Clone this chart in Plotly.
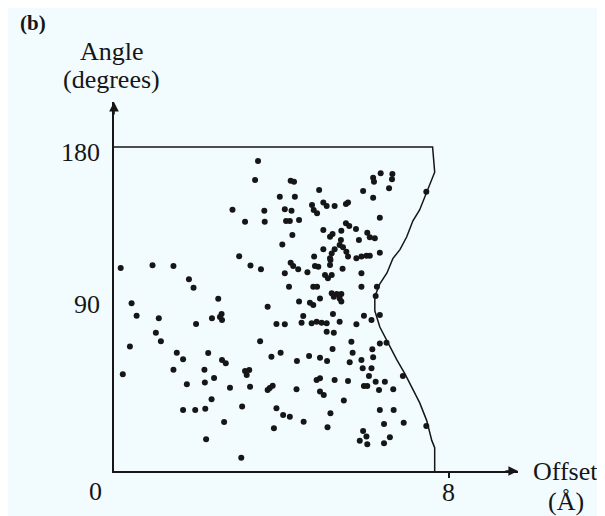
import plotly.graph_objects as go

# Scatter points: offset (Å) and angle (degrees)
offset = [3.44, 3.37, 3.96, 2.83, 3.59, 3.13, 3.60, 4.02, 2.99, 0.16, 0.92, 1.42, 3.26, 3.51, 1.79,
          1.90, 2.49, 0.42, 3.67, 0.54, 1.07, 1.96, 2.34, 2.57, 2.58, 2.53, 3.88, 1.00, 1.12, 3.49,
          0.38, 1.50, 1.65, 2.25, 2.58, 2.67, 3.76, 3.98, 1.42, 2.16, 3.13, 3.23, 3.17, 0.21, 2.39,
          1.74, 2.17, 2.77, 3.25, 3.67, 3.79, 3.72, 2.33, 1.65, 1.94, 2.18, 3.06, 3.88, 2.63, 3.82,
          2.20, 3.04,
          4.22, 4.30, 4.90, 6.19, 6.21, 6.37, 6.65, 6.64, 6.57, 5.95, 6.19, 4.32, 4.08, 4.24, 4.73,
          4.77, 4.85, 5.00, 5.08, 5.27, 5.54, 5.59, 4.11, 4.20, 4.42, 6.35, 4.26, 5.00, 5.16, 5.22,
          5.43, 5.54, 5.62, 5.78, 6.05, 6.11, 6.23, 5.85, 5.42, 5.39, 5.47, 5.00, 5.27, 5.20, 5.55,
          5.59, 6.35, 4.78, 5.16, 5.79, 5.91, 6.03, 6.11, 4.22, 4.28, 4.40, 4.80, 4.88, 5.16, 5.17,
          5.46, 4.08, 4.62, 5.91, 5.04, 5.11, 5.20, 4.18, 4.76, 4.85, 5.91, 6.28, 5.20, 5.32, 5.43,
          5.39, 5.43, 5.25, 4.92, 4.68, 4.76, 4.42, 6.25, 7.46,
          5.23, 5.97, 6.15, 6.35, 4.52, 4.48, 4.08, 4.72, 4.84, 4.96, 5.08, 5.39, 5.79, 5.08, 5.25,
          5.67, 6.35, 6.51, 6.17, 5.22, 5.70, 4.66, 4.92, 5.09, 4.37, 6.19, 5.63, 5.91, 5.94, 6.15,
          6.09, 6.90, 4.84, 4.92, 5.27, 5.59, 6.25, 6.47, 5.97, 6.05, 6.33, 6.67, 4.36, 4.92, 5.01,
          5.49, 4.04, 4.20, 5.17, 6.35, 6.68, 4.53, 6.45, 6.92, 5.10, 7.46, 5.95, 6.03, 5.87, 6.05,
          6.59, 6.45]
angle = [172.2, 161.7, 152.4, 145.2, 144.6, 138.5, 138.5, 125.9, 119.3, 112.8, 114.3, 113.9, 114.1, 112.1, 106.5,
         101.8, 95.7, 93.2, 91.3, 86.3, 84.8, 81.7, 84.8, 87.2, 83.9, 85.6, 81.7, 76.8, 72.1, 72.1,
         69.1, 65.7, 62.1, 65.6, 61.7, 59.8, 63.5, 65.7, 56.3, 56.3, 55.6, 56.1, 53.3, 53.7, 51.7,
         48.2, 49.1, 46.3, 46.8, 45.0, 47.4, 46.1, 39.8, 33.9, 33.9, 34.6, 35.9, 34.8, 27.2, 23.7,
         17.6, 7.4,
         161.3, 160.7, 156.1, 162.9, 160.7, 165.4, 165.0, 162.1, 157.1, 155.6, 151.8, 152.4, 145.4, 144.6, 147.8,
         145.0, 143.2, 149.1, 147.2, 147.2, 148.3, 149.1, 138.9, 138.9, 139.4, 140.7, 131.1, 133.9, 130.2, 131.7,
         133.5, 137.6, 136.1, 134.4, 132.4, 129.8, 129.3, 128.3, 128.3, 125.6, 124.3, 123.2, 123.2, 120.9, 121.8,
         119.1, 121.3, 119.1, 118.2, 118.2, 119.1, 119.6, 119.6, 115.7, 113.9, 112.1, 113.9, 113.5, 114.4, 117.2,
         112.4, 109.8, 110.4, 109.8, 108.9, 107.1, 108.9, 102.4, 102.4, 102.4, 102.4, 102.4, 98.7, 98.3, 98.3,
         95.9, 94.1, 96.8, 95.9, 93.5, 92.2, 94.1, 97.2, 155.2,
         87.2, 86.3, 83.9, 86.7, 86.1, 82.4, 81.5, 82.1, 82.9, 82.4, 82.1, 82.9, 81.5, 77.4, 76.8,
         71.8, 70.9, 71.3, 67.6, 67.8, 65.7, 63.9, 62.9, 61.1, 61.1, 63.2, 60.4, 61.7, 57.1, 57.1,
         52.8, 52.8, 50.6, 51.5, 50.6, 50.0, 49.6, 49.6, 47.2, 47.2, 45.0, 45.4, 45.4, 44.1, 42.2,
         39.1, 31.1, 30.2, 32.1, 33.9, 33.9, 27.4, 26.1, 26.8, 24.3, 25.0, 22.2, 19.1, 16.8, 14.8,
         18.7, 15.4]

# Boundary curve of the allowed region
bound_x = [0.0, 7.61, 7.66, 7.47, 7.30, 7.14, 6.99, 6.83, 6.66, 6.52, 6.35, 6.23, 6.23, 6.35, 6.54,
           6.75, 6.95, 7.14, 7.30, 7.47, 7.59, 7.66, 7.66]
bound_y = [180, 180, 166, 155, 145, 139, 130, 123, 118, 110, 104, 97, 89, 80, 71,
           62, 54, 45, 38, 28, 17, 13, 0]

x_ticks = [8]
y_ticks = [90, 180]
x_tick_labels = ["8"]
y_tick_labels = ["90", "180"]

BG = "#f2fcfe"
INK = "#161616"
FONT = "Liberation Serif"
FS = 26

# page offset compensation (page content starts 8px in)
OX, OY = 8, 8
W, H = 605 - OX, 516 - OY
L = 114 - OX
T = 102 - OY
B = H - (471 - OY)
XMAX, YMAX = 9.65, 205
pw = XMAX * 41.9
R = W - L - pw
ph = H - T - B


def px(xp):
    return (xp - OX - L) / pw


def py(yp):
    return (H - B - (yp - OY)) / ph


fig = go.Figure()
fig.add_trace(go.Scatter(x=bound_x, y=bound_y, mode="lines",
                         line=dict(color=INK, width=1.5), hoverinfo="skip"))
fig.add_trace(go.Scatter(x=offset, y=angle, mode="markers",
                         marker=dict(color=INK, size=6, line=dict(width=0))))

fig.update_layout(
    width=W, height=H,
    margin=dict(l=L, r=R, t=T, b=B, autoexpand=False),
    paper_bgcolor=BG, plot_bgcolor=BG,
    showlegend=False,
    font=dict(family=FONT, size=FS, color=INK),
    xaxis=dict(range=[0, XMAX], showgrid=False, zeroline=False, showline=True, automargin=False,
               linecolor=INK, linewidth=1.6, tickvals=x_ticks, showticklabels=False,
               ticks="outside", ticklen=5, tickwidth=1.6, tickcolor=INK),
    yaxis=dict(range=[0, YMAX], showgrid=False, zeroline=False, showline=True, automargin=False,
               linecolor=INK, linewidth=1.6, tickvals=y_ticks, showticklabels=False, ticks=""),
)

ann = [
    dict(x=px(33), y=py(23), text="<b>(b)</b>", font=dict(size=21)),
    dict(x=px(112), y=py(52), text="Angle"),
    dict(x=px(111), y=py(80), text="(degrees)"),
    dict(x=px(95), y=py(491), text="0"),
    dict(x=px(566), y=py(471), text="Offset"),
    dict(x=px(566), y=py(502), text="(Å)"),
]
annotations = []
for a in ann:
    a.update(xref="paper", yref="paper", showarrow=False, xanchor="center", yanchor="middle")
    annotations.append(a)
# tick labels placed at their axis values
for v, t in zip(x_ticks, x_tick_labels):
    annotations.append(dict(x=v, y=0, xref="x", yref="y", text=t, showarrow=False,
                            xanchor="center", yanchor="middle", yshift=-21))
for v, t, dy in zip(y_ticks, y_tick_labels, [5, -5]):
    annotations.append(dict(x=0, y=v, xref="x", yref="y", text=t, showarrow=False,
                            xanchor="right", yanchor="middle", xshift=-12, yshift=dy))
# axis arrowheads
annotations.append(dict(x=XMAX, y=0, xref="x", yref="y", ax=-14, ay=0, axref="pixel", ayref="pixel",
                        showarrow=True, arrowhead=2, arrowsize=1.2, arrowwidth=1.6, arrowcolor=INK, text=""))
annotations.append(dict(x=0, y=YMAX, xref="x", yref="y", ax=0, ay=14, axref="pixel", ayref="pixel",
                        showarrow=True, arrowhead=2, arrowsize=1.2, arrowwidth=1.6, arrowcolor=INK, text=""))
fig.update_layout(annotations=annotations)

fig.write_html("out.html")
